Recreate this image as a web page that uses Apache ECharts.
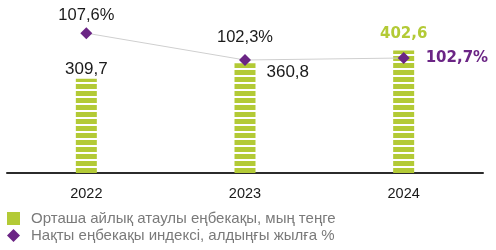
<!DOCTYPE html>
<html>
<head>
<meta charset="utf-8">
<script src="https://cdn.jsdelivr.net/npm/echarts@6/dist/echarts.min.js"></script>
<style>html,body{margin:0;padding:0;background:#fff}#c{width:496px;height:250px}</style>
</head>
<body>
<div id="c"></div>
<script>
const categories = ['2022', '2023', '2024'];
const wageValues = [309.7, 360.8, 402.6];
const indexValues = [107.6, 102.3, 102.7];
const wageName = 'Орташа айлық атаулы еңбекақы, мың теңге';
const indexName = 'Нақты еңбекақы индексі, алдыңғы жылға %';

const GREEN = '#b3ca36';
const PURPLE = '#6b2585';
const FONT = 'Liberation Sans';
const BOLDFONT = 'DejaVu Sans';

function stripe() {
  const c = document.createElement('canvas');
  c.width = 4; c.height = 7;
  const g = c.getContext('2d');
  g.fillStyle = '#ffffff'; g.fillRect(0, 0, 4, 7);
  g.fillStyle = GREEN; g.fillRect(0, 0, 4, 5);
  return c;
}
const pat = stripe();
const fmt = v => String(v).replace('.', ',');

const barLabels = [
  { position: 'top', distance: 1, color: '#1a1a1a', fontSize: 17, fontFamily: FONT },
  { position: [32, 0], color: '#1a1a1a', fontSize: 17, fontFamily: FONT },
  { position: 'top', distance: 9, color: GREEN, fontSize: 15, fontWeight: 'bold', fontFamily: BOLDFONT }
];
const lineLabels = [
  { position: 'top', distance: 3, color: '#1a1a1a', fontSize: 16.5, fontFamily: FONT },
  { position: 'top', distance: 8.5, color: '#1a1a1a', fontSize: 16.5, fontFamily: FONT },
  { position: 'right', distance: 16, color: PURPLE, fontSize: 15, fontWeight: 'bold', fontFamily: BOLDFONT }
];

const chart = echarts.init(document.getElementById('c'), null, { renderer: 'canvas' });
chart.setOption({
  animation: false,
  textStyle: { fontFamily: FONT },
  grid: { left: 7, right: 13, top: 21, bottom: 77 },
  legend: {
    orient: 'vertical', left: 7, top: 211, padding: 0, itemWidth: 13, itemHeight: 13, itemGap: 2,
    textStyle: { color: '#7a7a7a', fontSize: 15, fontFamily: FONT, padding: [0, 0, 0, 6] },
    data: [{ name: wageName, icon: 'rect', itemStyle: { color: GREEN } },
           { name: indexName, icon: 'diamond' }]
  },
  xAxis: {
    type: 'category', data: categories,
    axisLine: { lineStyle: { color: '#2b2b2b', width: 2 } },
    axisTick: { show: false },
    axisLabel: { color: '#1a1a1a', fontSize: 14.5, margin: 13, fontFamily: FONT }
  },
  yAxis: [
    { type: 'value', min: 0, max: 500, show: false, splitLine: { show: false } },
    { type: 'value', min: 80, max: 110, show: false, splitLine: { show: false } }
  ],
  series: [
    {
      name: wageName, type: 'bar', barWidth: 21, yAxisIndex: 0,
      itemStyle: { color: { image: pat, repeat: 'repeat' } },
      data: wageValues.map((v, i) => ({
        value: v,
        label: Object.assign({ show: true, formatter: p => fmt(p.value) }, barLabels[i])
      }))
    },
    {
      name: indexName, type: 'line', yAxisIndex: 1,
      symbol: 'diamond', symbolSize: 12,
      lineStyle: { color: '#cfcfcf', width: 1 },
      itemStyle: { color: PURPLE },
      z: 5,
      data: indexValues.map((v, i) => ({
        value: v,
        label: Object.assign({ show: true, formatter: p => fmt(p.value) + '%' }, lineLabels[i])
      }))
    }
  ]
});
</script>
</body>
</html>
